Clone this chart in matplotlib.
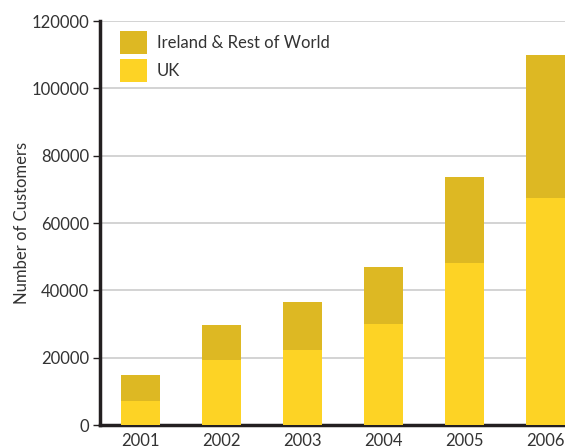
import numpy as np
import matplotlib
matplotlib.use("Agg")
import matplotlib.pyplot as plt

years = ["2001", "2002", "2003", "2004", "2005", "2006"]
uk = [7000, 19300, 22200, 30000, 48000, 67300]
rest = [7800, 10400, 14300, 16800, 25800, 42700]

UK_COLOR = "#fdd325"
REST_COLOR = "#ddb823"
TEXT = "#333333"

plt.rcParams["font.family"] = ["Lato", "DejaVu Sans"]

fig = plt.figure(figsize=(5.65, 4.48), dpi=100)
ax = fig.add_axes([100 / 565, 23 / 448, 465 / 565, 404 / 448])

x = np.arange(len(years))
width = 0.48
ax.bar(x, uk, width, color=UK_COLOR, label="UK", zorder=3)
ax.bar(x, rest, width, bottom=uk, color=REST_COLOR,
       label="Ireland & Rest of World", zorder=3)

ax.set_xlim(-0.5, 5.24)
ax.set_ylim(0, 120000)
ax.set_yticks(np.arange(0, 120001, 20000))
ax.set_xticks(x)
ax.set_xticklabels(years)
ax.yaxis.grid(True, color="#cccccc", lw=1.2, zorder=0)
ax.set_axisbelow(True)

for s in ["top", "right"]:
    ax.spines[s].set_visible(False)
for s in ["left", "bottom"]:
    ax.spines[s].set_color("#231f20")
    ax.spines[s].set_linewidth(2.5)

ax.tick_params(axis="y", length=5, width=1, color="#231f20",
               labelsize=12, labelcolor=TEXT, pad=3)
ax.tick_params(axis="x", length=0, labelsize=12, labelcolor=TEXT, pad=6)
ax.set_ylabel("Number of Customers", fontsize=12, color=TEXT, labelpad=1)

handles, labels = ax.get_legend_handles_labels()
leg = ax.legend(handles[::-1], labels[::-1], loc="upper left",
                bbox_to_anchor=(0.022, 1.0), frameon=False, fontsize=12,
                handlelength=1.6, handleheight=1.75, labelspacing=0.3,
                handletextpad=0.6, borderaxespad=0.2)
for t in leg.get_texts():
    t.set_color(TEXT)

fig.savefig("out.png", dpi=100)
